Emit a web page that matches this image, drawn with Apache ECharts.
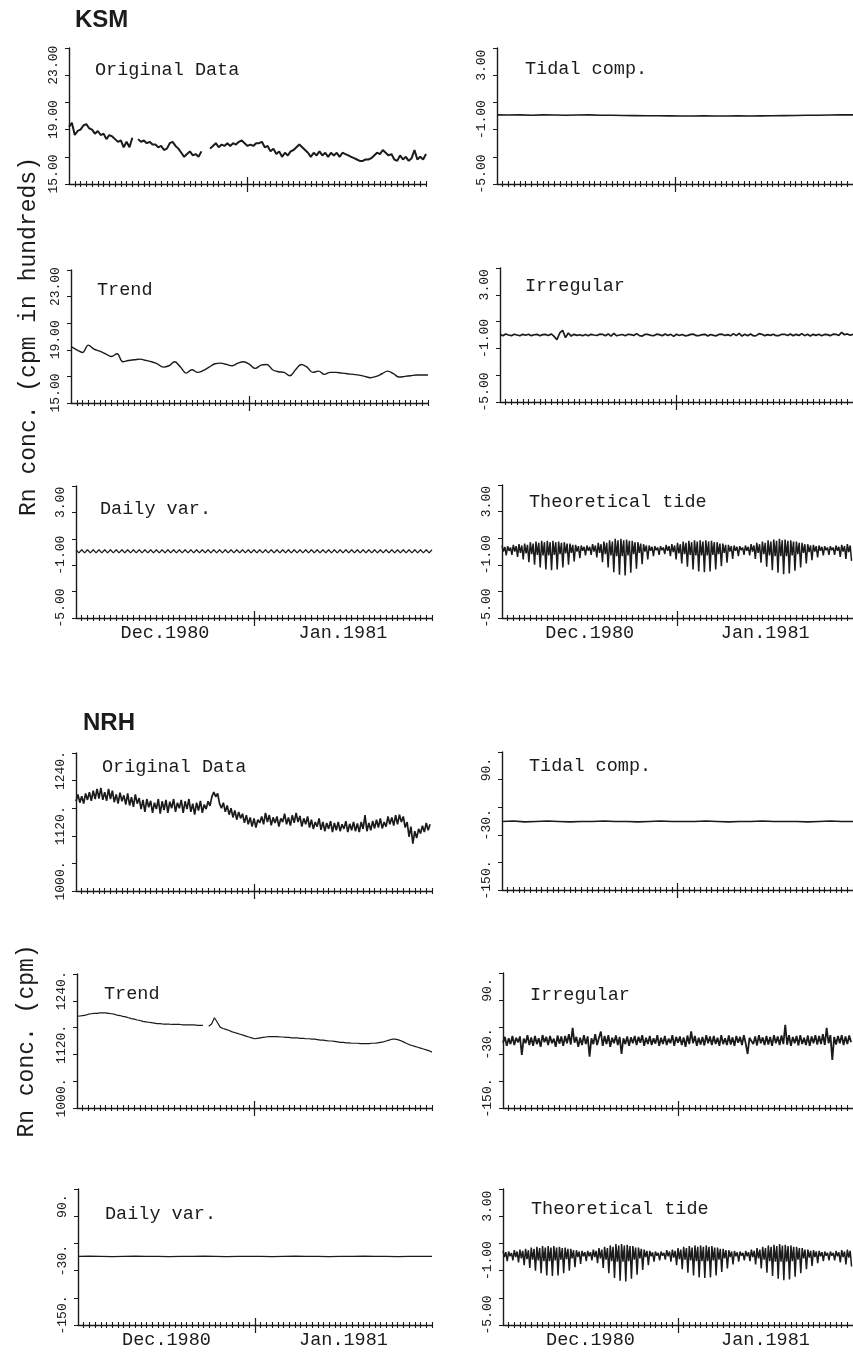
<!DOCTYPE html>
<html>
<head>
<meta charset="utf-8">
<script src="https://cdn.jsdelivr.net/npm/echarts@6.0.0/dist/echarts.min.js"></script>
<style>
  html, body { margin: 0; padding: 0; background: #fff; }
  #chart { width: 853px; height: 1353px; }
</style>
</head>
<body>
<div id="chart"></div>
<script>
  // time axis: days counted from 1 Dec 1980, month boundary at day 31
  const monthLabels = ['Dec.1980', 'Jan.1981']
  const monthCenters = [15.5, 46.5]
  const monthBoundary = [31]

  // y tick / label values
  const ksmTicks = [15, 17, 19, 21, 23, 25]
  const ksmLabels = [15, 19, 23]
  const compTicks = [-5, -3, -1, 1, 3, 5]
  const compLabels = [-5, -1, 3]
  const nrhTicks = [1000, 1060, 1120, 1180, 1240, 1300]
  const nrhLabels = [1000, 1120, 1240]
  const nrhCompTicks = [-150, -90, -30, 30, 90, 150]
  const nrhCompLabels = [-150, -30, 90]

  // KSM (cpm in hundreds), half-day samples
  const ksmOriginal = [
    19.2, 19.5, 18.6, 18.9, 19.0, 19.3, 19.4, 19.1, 19.0, 18.7,
    18.9, 18.6, 18.7, 18.3, 18.6, 18.5, 18.3, 18.1, 18.2, 17.7,
    18.1, 17.7, 18.4, null, 18.3, 18.1, 18.2, 18.0, 18.1, 17.9,
    17.9, 17.7, 17.8, 17.5, 17.6, 18.0, 18.1, 17.8, 17.6, 17.3,
    17.0, 17.2, 17.4, 17.1, 17.2, 17.0, 17.4, null, null, 17.6,
    17.8, 18.0, 17.7, 17.9, 17.8, 18.0, 17.8, 18.0, 17.9, 18.1,
    18.2, 18.0, 17.8, 17.9, 17.8, 18.0, 18.0, 18.1, 17.7, 17.8,
    17.4, 17.6, 17.2, 17.4, 17.0, 17.3, 17.1, 17.4, 17.5, 17.7,
    17.9, 17.7, 17.5, 17.3, 17.0, 17.3, 17.1, 17.4, 17.1, 17.3,
    17.0, 17.3, 17.1, 17.3, 17.0, 17.3, 17.2, 17.1, 17.0, 16.9,
    16.8, 16.7, 16.7, 16.8, 16.8, 16.9, 17.1, 17.3, 17.2, 17.5,
    17.3, 17.1, 17.2, 16.8, 16.7, 17.1, 16.8, 17.0, 16.7, 16.9,
    17.5, 16.8, 17.0, 16.8, 17.2
  ]
  // daily samples
  const ksmTrend = [
    19.25, 19.0, 18.8, 19.35, 19.05, 18.9, 18.7, 18.5, 18.7, 18.1,
    18.2, 18.25, 18.3, 18.2, 18.1, 17.95, 17.7, 17.8, 18.1, 17.7,
    17.25, 17.5, 17.3, 17.45, 17.7, 17.95, 18.0, 17.9, 17.8, 18.0,
    18.1, 17.9, 17.6, 17.85, 17.9, 17.5, 17.35, 17.3, 17.05, 17.5,
    17.9, 17.7, 17.3, 17.4, 17.15, 17.3, 17.3, 17.25, 17.2, 17.15,
    17.1, 17.0, 16.9, 17.0, 17.2, 17.4, 17.2, 16.95, 17.0, 17.05,
    17.1, 17.1, 17.1
  ]
  // half-day samples
  const ksmDaily = [
    0.17, -0.07, 0.17, -0.07, 0.17, -0.07, 0.17, -0.07, 0.17, -0.07,
    0.17, -0.07, 0.17, -0.07, 0.17, -0.07, 0.17, -0.07, 0.17, -0.07,
    0.17, -0.07, 0.17, -0.07, 0.17, -0.07, 0.17, -0.07, 0.17, -0.07,
    0.17, -0.07, 0.17, -0.07, 0.17, -0.07, 0.17, -0.07, 0.17, -0.07,
    0.17, -0.07, 0.17, -0.07, 0.17, -0.07, 0.17, -0.07, 0.17, -0.07,
    0.17, -0.07, 0.17, -0.07, 0.17, -0.07, 0.17, -0.07, 0.17, -0.07,
    0.17, -0.07, 0.17, -0.07, 0.17, -0.07, 0.17, -0.07, 0.17, -0.07,
    0.17, -0.07, 0.17, -0.07, 0.17, -0.07, 0.17, -0.07, 0.17, -0.07,
    0.17, -0.07, 0.17, -0.07, 0.17, -0.07, 0.17, -0.07, 0.17, -0.07,
    0.17, -0.07, 0.17, -0.07, 0.17, -0.07, 0.17, -0.07, 0.17, -0.07,
    0.17, -0.07, 0.17, -0.07, 0.17, -0.07, 0.17, -0.07, 0.17, -0.07,
    0.17, -0.07, 0.17, -0.07, 0.17, -0.07, 0.17, -0.07, 0.17, -0.07,
    0.17, -0.07, 0.17, -0.07, 0.17
  ]
  // two-day samples
  const ksmTidal = [
    0.08, 0.07, 0.08, 0.06, 0.08, 0.07, 0.06, 0.07, 0.08, 0.06,
    0.05, 0.04, 0.03, 0.02, 0.02, 0.01, 0.0, 0.0, 0.01, 0.0,
    0.0, 0.01, 0.0, 0.01, 0.02, 0.03, 0.04, 0.05, 0.06, 0.07,
    0.08, 0.08
  ]
  // half-day samples
  const ksmIrregular = [
    0.05, -0.05, 0.08, 0.0, -0.05, 0.06, 0.0, -0.06, 0.05, -0.02,
    0.06, -0.05, 0.02, 0.05, -0.06, 0.03, 0.04, -0.04, 0.08, -0.1,
    -0.35, 0.15, 0.35, -0.2, 0.15, -0.08, 0.05, -0.03, 0.02, -0.05,
    0.04, -0.06, 0.05, 0.0, -0.04, 0.06, 0.05, -0.05, 0.08, -0.08,
    0.12, -0.06, 0.0, 0.04, -0.05, 0.05, 0.03, -0.04, 0.1, -0.05,
    -0.08, 0.05, 0.04, -0.03, -0.05, 0.06, 0.03, -0.06, 0.08, -0.04,
    0.05, -0.1, 0.06, -0.04, 0.04, -0.06, -0.03, 0.05, 0.06, -0.05,
    -0.04, 0.03, 0.05, -0.08, 0.04, -0.03, -0.06, 0.05, 0.06, -0.04,
    0.03, -0.06, 0.1, -0.05, 0.12, -0.08, 0.06, -0.05, 0.08, -0.06,
    -0.05, 0.1, 0.05, -0.05, 0.03, -0.03, 0.06, -0.05, -0.04, 0.05,
    0.05, -0.04, 0.08, -0.06, 0.05, -0.03, 0.1, -0.05, 0.06, -0.08,
    0.05, -0.03, 0.06, -0.05, 0.04, 0.03, -0.05, 0.06, 0.05, -0.04,
    0.2, 0.02, 0.08, -0.02, 0.05
  ]
  // theoretical tide, quarter-day samples (same period at both stations)
  const tideVals = [
    0.45, 0.0, 0.35, -0.3,    0.4, 0.05, 0.3, -0.25,    0.5, 0.0, 0.4, -0.4,
    0.55, -0.1, 0.45, -0.6,   0.6, -0.15, 0.5, -0.8,    0.7, -0.2, 0.6, -1.0,
    0.75, -0.25, 0.65, -1.2,  0.8, -0.3, 0.7, -1.35,    0.8, -0.3, 0.7, -1.4,
    0.8, -0.25, 0.7, -1.35,   0.75, -0.2, 0.65, -1.2,   0.7, -0.15, 0.6, -1.0,
    0.6, -0.1, 0.5, -0.75,    0.5, 0.0, 0.4, -0.5,      0.45, 0.05, 0.35, -0.3,
    0.45, 0.05, 0.35, -0.25,  0.55, 0.0, 0.45, -0.45,   0.65, -0.1, 0.55, -0.8,
    0.75, -0.2, 0.65, -1.2,   0.85, -0.3, 0.75, -1.55,  0.95, -0.35, 0.85, -1.75,
    0.95, -0.35, 0.85, -1.8,  0.9, -0.3, 0.8, -1.6,     0.8, -0.2, 0.7, -1.3,
    0.7, -0.1, 0.6, -0.95,    0.55, 0.0, 0.45, -0.6,    0.45, 0.05, 0.35, -0.35,
    0.4, 0.1, 0.3, -0.25,     0.4, 0.1, 0.3, -0.2,      0.5, 0.05, 0.4, -0.35,
    0.55, -0.05, 0.45, -0.6,  0.65, -0.15, 0.55, -0.9,  0.75, -0.2, 0.65, -1.15,
    0.8, -0.25, 0.7, -1.35,   0.85, -0.3, 0.75, -1.5,   0.85, -0.3, 0.75, -1.55,
    0.85, -0.3, 0.75, -1.5,   0.8, -0.25, 0.7, -1.35,   0.7, -0.2, 0.6, -1.1,
    0.6, -0.1, 0.5, -0.85,    0.5, 0.0, 0.4, -0.55,     0.45, 0.05, 0.35, -0.35,
    0.4, 0.1, 0.3, -0.25,     0.45, 0.05, 0.35, -0.3,   0.55, 0.0, 0.45, -0.55,
    0.65, -0.1, 0.55, -0.85,  0.75, -0.2, 0.65, -1.15,  0.85, -0.3, 0.75, -1.4,
    0.9, -0.35, 0.8, -1.6,    0.95, -0.35, 0.85, -1.7,  0.9, -0.35, 0.8, -1.65,
    0.85, -0.3, 0.75, -1.45,  0.75, -0.2, 0.65, -1.2,   0.65, -0.1, 0.55, -0.9,
    0.55, -0.05, 0.45, -0.65, 0.5, 0.0, 0.4, -0.45,     0.45, 0.05, 0.35, -0.3,
    0.4, 0.1, 0.3, -0.25,     0.4, 0.1, 0.3, -0.25,     0.45, 0.05, 0.35, -0.4,
    0.5, 0.0, 0.4, -0.55,     0.55, -0.05, 0.45, -0.7
  ]

  // NRH (cpm), third-of-a-day samples
  const nrhOriginal = [
    1195, 1210, 1192, 1206, 1190, 1212, 1198, 1215, 1196, 1218, 1200, 1222,
    1201, 1224, 1198, 1215, 1196, 1222, 1200, 1218, 1193, 1210, 1190, 1214,
    1195, 1208, 1188, 1212, 1186, 1204, 1183, 1210, 1190, 1202, 1178, 1198,
    1172, 1200, 1182, 1196, 1170, 1192, 1178, 1200, 1168, 1195, 1176, 1198,
    1170, 1194, 1180, 1200, 1172, 1192, 1180, 1198, 1170, 1195, 1178, 1200,
    1172, 1190, 1166, 1192, 1175, 1196, 1170, 1188, 1178, 1195, 1185, 1205,
    1215, 1205, 1212, 1190, 1180, 1192, 1172, 1186, 1166, 1180, 1160, 1175,
    1155, 1172, 1158, 1168, 1148, 1165, 1145, 1160, 1140, 1158, 1138, 1155,
    1148, 1162, 1145, 1170, 1150, 1165, 1143, 1160, 1148, 1162, 1140, 1158,
    1150, 1168, 1145, 1160, 1142, 1165, 1148, 1170, 1150, 1163, 1140, 1158,
    1145, 1162, 1138, 1155, 1135, 1150, 1140, 1158, 1133, 1150, 1130, 1148,
    1135, 1152, 1128, 1148, 1132, 1150, 1130, 1145, 1135, 1152, 1128, 1146,
    1132, 1150, 1130, 1147, 1128, 1150, 1135, 1165, 1130, 1148, 1132, 1152,
    1136, 1155, 1138, 1158, 1136, 1150, 1140, 1162, 1145, 1160, 1142, 1165,
    1145, 1166, 1150, 1162, 1138, 1150, 1118, 1140, 1103, 1130, 1115, 1135,
    1125, 1142, 1128, 1148, 1132, 1145
  ]
  // half-day samples
  const nrhTrend = [
    1205, 1206, 1207, 1208, 1210, 1211, 1212, 1212, 1213, 1213,
    1213, 1212, 1211, 1210, 1208, 1207, 1205, 1204, 1202, 1200,
    1199, 1197, 1196, 1194, 1193, 1192, 1191, 1190, 1189, 1189,
    1188, 1188, 1188, 1187, 1187, 1187, 1187, 1186, 1186, 1186,
    1186, 1186, 1185, 1185, 1185, null, 1183, 1188, 1202, 1192,
    1181, 1178, 1176, 1174, 1171, 1169, 1167, 1165, 1163, 1161,
    1159, 1157, 1155, 1156, 1157, 1158, 1159, 1160, 1160, 1160,
    1160, 1159, 1159, 1158, 1158, 1157, 1157, 1157, 1156, 1156,
    1155, 1155, 1154, 1154, 1153, 1152, 1152, 1151, 1150, 1150,
    1149, 1148, 1147, 1147, 1146, 1146, 1145, 1145, 1145, 1144,
    1144, 1144, 1144, 1145, 1145, 1146, 1147, 1148, 1150, 1152,
    1154, 1154, 1153, 1151, 1148, 1145, 1142, 1140, 1138, 1136,
    1134, 1132, 1130, 1128, 1125
  ]
  // two-day samples
  const nrhTidal = [
    -1, 0, -2, -1, 0, -1, -2, -1, -1, 0, -1, -1, -2, -1, 0, -1,
    -1, -1, 0, -1, -2, -1, -1, 0, -1, -1, -1, -2, -1, 0, -1, -1
  ]
  // third-of-a-day samples
  const nrhIrregular = [
    -5, 8, -12, 5, -8, 10, -10, 6, -4, 9, -32, 4,
    -6, 12, -10, 7, -12, 10, -8, 5, -14, 12, -4, 8,
    -10, 10, -6, 4, -14, 11, -7, 9, -12, 10, -6, 14,
    -9, 28, -5, 8, -14, 6, -10, 12, -8, 9, -36, 5,
    -8, 14, -10, 6, 20, -12, 10, -8, 12, -14, 6, -6,
    11, -10, 8, -30, 5, -8, 9, -12, 7, -6, 10, -10,
    8, -5, 12, -12, 6, -8, 10, -10, 5, -7, 12, -12,
    6, -8, 10, -10, 4, -6, 12, -12, 8, -5, 9, -10,
    7, -14, 11, -8, 20, -6, 10, -12, 6, -9, 8, -11,
    12, -6, 9, -10, 10, -8, 6, -12, 12, -8, 5, -10,
    11, -9, 7, -12, 10, -5, 8, -10, 12, -7, -30, 6,
    10, -8, 9, -11, 12, -6, 7, -10, 10, -9, 8, -12,
    12, -6, 9, -10, 11, -8, 35, -9, 12, -12, 8, -6,
    10, -11, 12, -8, 6, -10, 11, -12, 9, -6, 12, -9,
    10, -8, 14, -10, 28, -6, 12, -43, 8, -9, 10, -6,
    12, -10, 9, -8, 11, -4
  ]
  // two-day samples
  const nrhDaily = [
    1.5, 2, 1.5, 1, 1.5, 2, 1.5, 1.5, 1, 1.5, 1.5, 2, 1.5, 1, 1.5, 1.5,
    1.5, 1, 1.5, 2, 1.5, 1.5, 1, 1.5, 1.5, 2, 1.5, 1.5, 1, 1.5, 1.5, 1.5
  ]

  const INK = '#1b1b1b'
  const MONO = 'Liberation Mono'
  const dayTicks = []
  for (let d = 1; d <= 62; d++) dayTicks.push(d)

  const fmtHundreds = v => v.toFixed(2)
  const fmtCpm = v => v + '.'

  let panels = [
    // KSM left column
    { name: 'Original Data', vals: ksmOriginal, step: 0.5, ext: [15, 25], ticks: ksmTicks, labels: ksmLabels, fmt: fmtHundreds,
      box: [69, 48, 357, 136], titleAt: [95, 61], lw: 2.0 },
    { name: 'Trend', vals: ksmTrend, step: 1, ext: [15, 25], ticks: ksmTicks, labels: ksmLabels, fmt: fmtHundreds,
      box: [71, 270, 357, 133], titleAt: [97, 281], lw: 1.4, smooth: 0.4, yName: 'Rn conc. (cpm in hundreds)', nameGap: 31 },
    { name: 'Daily var.', vals: ksmDaily, step: 0.5, ext: [-5, 5], ticks: compTicks, labels: compLabels, fmt: fmtHundreds,
      box: [76, 486, 356, 132], titleAt: [100, 500], lw: 1.2, bottom: true },
    // KSM right column
    { name: 'Tidal comp.', vals: ksmTidal, step: 2, ext: [-5, 5], ticks: compTicks, labels: compLabels, fmt: fmtHundreds,
      box: [497, 48, 357, 136], titleAt: [525, 60], lw: 1.6 },
    { name: 'Irregular', vals: ksmIrregular, step: 0.5, ext: [-5, 5], ticks: compTicks, labels: compLabels, fmt: fmtHundreds,
      box: [500, 268, 357, 134], titleAt: [525, 277], lw: 1.7 },
    { name: 'Theoretical tide', vals: tideVals, step: 0.25, ext: [-5, 5], ticks: compTicks, labels: compLabels, fmt: fmtHundreds,
      box: [502, 485, 357, 133], titleAt: [529, 493], lw: 1.5, bottom: true },
    // NRH left column
    { name: 'Original Data', vals: nrhOriginal, step: 1 / 3, ext: [1000, 1300], ticks: nrhTicks, labels: nrhLabels, fmt: fmtCpm,
      box: [76, 753, 356, 138], titleAt: [102, 758], lw: 1.7 },
    { name: 'Trend', vals: nrhTrend, step: 0.5, ext: [1000, 1300], ticks: nrhTicks, labels: nrhLabels, fmt: fmtCpm,
      box: [77, 974, 355, 134], titleAt: [104, 985], lw: 1.2, yName: 'Rn conc. (cpm)', nameGap: 39 },
    { name: 'Daily var.', vals: nrhDaily, step: 2, ext: [-150, 150], ticks: nrhCompTicks, labels: nrhCompLabels, fmt: fmtCpm,
      box: [78, 1189, 354, 136], titleAt: [105, 1205], lw: 1.3, bottom: true },
    // NRH right column
    { name: 'Tidal comp.', vals: nrhTidal, step: 2, ext: [-150, 150], ticks: nrhCompTicks, labels: nrhCompLabels, fmt: fmtCpm,
      box: [502, 752, 357, 138], titleAt: [529, 757], lw: 1.6 },
    { name: 'Irregular', vals: nrhIrregular, step: 1 / 3, ext: [-150, 150], ticks: nrhCompTicks, labels: nrhCompLabels, fmt: fmtCpm,
      box: [503, 973, 357, 135], titleAt: [530, 986], lw: 1.8 },
    { name: 'Theoretical tide', vals: tideVals, step: 0.25, ext: [-5, 5], ticks: compTicks, labels: compLabels, fmt: fmtHundreds,
      box: [503, 1189, 357, 136], titleAt: [531, 1200], lw: 1.5, bottom: true }
  ]

  let chart = echarts.init(document.getElementById('chart'))
  let option = {
    animation: false,
    backgroundColor: '#fff',
    title: [
      { text: 'KSM', left: 75, top: 8, padding: 0,
        textStyle: { fontFamily: 'Liberation Sans', fontWeight: 'bold', fontSize: 24, color: INK } },
      { text: 'NRH', left: 83, top: 711, padding: 0,
        textStyle: { fontFamily: 'Liberation Sans', fontWeight: 'bold', fontSize: 24, color: INK } }
    ],
    grid: [],
    xAxis: [],
    yAxis: [],
    series: []
  }

  panels.forEach((p, i) => {
    option.grid.push({ left: p.box[0], top: p.box[1], width: p.box[2], height: p.box[3] })
    option.title.push({
      text: p.name, left: p.titleAt[0], top: p.titleAt[1], padding: 0,
      textStyle: { fontFamily: MONO, fontSize: 18.5, fontWeight: 'normal', color: INK }
    })
    let base = { type: 'value', gridIndex: i, min: 0, max: 62, position: 'bottom', splitLine: { show: false } }
    // axis line + month labels
    option.xAxis.push(Object.assign({}, base, {
      axisLine: { show: true, onZero: false, lineStyle: { color: INK, width: 1.4 } },
      axisTick: { show: false },
      axisLabel: p.bottom ? {
        show: true, customValues: monthCenters,
        formatter: v => monthLabels[v < monthBoundary[0] ? 0 : 1],
        margin: 6, fontFamily: MONO, fontSize: 18.5, color: INK
      } : { show: false }
    }))
    // daily ticks crossing the axis
    option.xAxis.push(Object.assign({}, base, {
      offset: -3,
      axisLine: { show: false, onZero: false },
      axisTick: { show: true, customValues: dayTicks, length: 6, lineStyle: { color: INK, width: 1.1 } },
      axisLabel: { show: false }
    }))
    // month boundary tick
    option.xAxis.push(Object.assign({}, base, {
      offset: -7,
      axisLine: { show: false, onZero: false },
      axisTick: { show: true, customValues: monthBoundary, length: 15, lineStyle: { color: INK, width: 1.2 } },
      axisLabel: { show: false }
    }))
    option.yAxis.push({
      type: 'value', gridIndex: i, min: p.ext[0], max: p.ext[1],
      splitLine: { show: false },
      axisLine: { show: true, onZero: false, lineStyle: { color: INK, width: 1.4 } },
      axisTick: { show: true, customValues: p.ticks, length: 4, lineStyle: { color: INK, width: 1 } },
      axisLabel: {
        customValues: p.labels, formatter: p.fmt, rotate: 90, margin: 9,
        fontFamily: MONO, fontSize: 13, color: INK, padding: [0, 0, 0, 20]
      },
      name: p.yName || '',
      nameLocation: 'middle',
      nameRotate: 90,
      nameGap: p.nameGap || 30,
      nameTextStyle: { fontFamily: MONO, fontSize: 23, color: INK }
    })
    option.series.push({
      type: 'line',
      xAxisIndex: 3 * i,
      yAxisIndex: i,
      data: p.vals.map((v, k) => [k * p.step, v]),
      symbol: 'none',
      smooth: p.smooth || false,
      silent: true,
      lineStyle: { color: INK, width: p.lw }
    })
  })

  chart.setOption(option)
</script>
</body>
</html>
